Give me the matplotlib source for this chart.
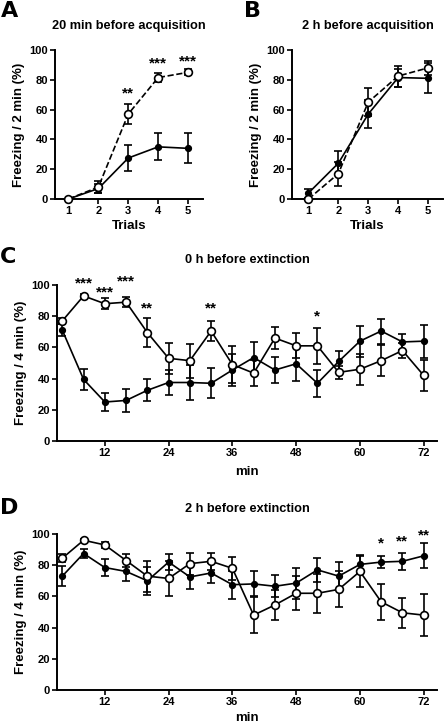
import matplotlib
matplotlib.use("Agg")
import matplotlib.pyplot as plt
import numpy as np

plt.rcParams['font.family'] = ['Liberation Sans', 'DejaVu Sans']
plt.rcParams['font.weight'] = 'bold'

# ---- data ----
trials = [1, 2, 3, 4, 5]
a_open = [0, 8, 57, 81.5, 85]
a_open_err = [0, 4, 6.5, 3, 2]
a_filled = [0, 7, 27.5, 35, 34]
a_filled_err = [0, 3, 9, 9, 10]
a_stars = {3: '**', 4: '***', 5: '***'}
a_star_y = {3: 71, 4: 91, 5: 92}

b_open = [0, 17, 65, 82.5, 88]
b_open_err = [0, 8, 9.5, 7, 4.5]
b_filled = [4, 24, 57, 81.5, 81]
b_filled_err = [3, 8, 9.5, 6, 10]

minutes = [4, 8, 12, 16, 20, 24, 28, 32, 36, 40, 44, 48, 52, 56, 60, 64, 68, 72]
c_open = [77, 93, 88, 89, 69.5, 53, 51.5, 70.5, 49, 43.5, 66, 61, 61, 44, 46, 51.5, 58, 42]
c_open_err = [2, 1, 3.5, 3, 9.5, 10, 11, 6.5, 12, 8.5, 7, 8, 11.5, 4, 10, 10, 5, 10]
c_filled = [71, 39.5, 25, 26, 32.5, 37.5, 37.5, 37, 45.5, 53.5, 45.5, 49.5, 37, 51, 64, 70.5, 63.5, 64]
c_filled_err = [4, 6.5, 5.5, 7.5, 7, 8, 11, 9.5, 10, 10, 8.5, 11, 8.5, 7, 10, 8, 5, 10.5]
c_stars = {8: '***', 12: '***', 16: '***', 20: '**', 32: '**', 52: '*'}
c_star_y = {8: 101, 12: 95, 16: 102, 20: 85, 32: 85, 52: 80}

d_open = [84.5, 96, 93, 83, 73, 71.5, 81, 82.5, 78, 48, 54.5, 62, 62, 64.5, 76, 56.5, 49.5, 48]
d_open_err = [2.5, 1, 2, 4, 10, 11.5, 7, 5.5, 7.5, 11.5, 9.5, 11, 12.5, 11.5, 10, 11.5, 9.5, 13.5]
d_filled = [73, 87.5, 78.5, 76, 70, 82, 72.5, 75, 67.5, 68, 66.5, 68.5, 77, 73, 80.5, 82, 82.5, 86]
d_filled_err = [6.5, 3, 5.5, 6, 9, 5, 8, 6.5, 9, 8, 7, 10, 7.5, 9, 6, 4, 5.5, 8]
d_stars = {64: '*', 68: '**', 72: '**'}
d_star_y = {64: 94, 68: 95, 72: 99}

W, H = 444, 725
fig = plt.figure(figsize=(W / 100, H / 100), dpi=100)

def rect(l, r, t, b):
    return [l / W, 1 - b / H, (r - l) / W, (b - t) / H]

axA = fig.add_axes(rect(55, 203, 50, 199))
axB = fig.add_axes(rect(292, 443, 50, 199))
axC = fig.add_axes(rect(57, 437, 285, 441))
axD = fig.add_axes(rect(57, 437, 534, 690))

LBL = 9.5
TTL = 9.2
STAR = 11

def style(ax, ylabel):
    for s in ['top', 'right']:
        ax.spines[s].set_visible(False)
    for s in ['left', 'bottom']:
        ax.spines[s].set_linewidth(1.4)
    ax.set_ylim(0, 100)
    ax.set_yticks([0, 20, 40, 60, 80, 100])
    ax.tick_params(direction='out', length=3.5, width=1.2, labelsize=8, pad=1.5)
    for lab in ax.get_xticklabels() + ax.get_yticklabels():
        lab.set_fontweight('bold')
    ax.set_ylabel(ylabel, fontsize=LBL, fontweight='bold', labelpad=3)

def series(ax, x, y, e, filled, ls='-'):
    if filled:
        mk = dict(marker='o', markersize=4.2, markerfacecolor='black', markeredgecolor='black')
    else:
        mk = dict(marker='o', markersize=5.6, markerfacecolor='white', markeredgecolor='black', markeredgewidth=1.2)
    ax.errorbar(x, y, yerr=e, color='black', lw=1.2, ls=ls, capsize=3.2, capthick=1.2,
                elinewidth=1.2, clip_on=False, zorder=3 if filled else 4, **mk)

def stars(ax, d, ys):
    for k, s in d.items():
        ax.text(k, ys[k], s, ha='center', va='center', fontsize=STAR, fontweight='bold')

# A
series(axA, trials, a_filled, a_filled_err, True)
series(axA, trials, a_open, a_open_err, False, ls='--')
axA.set_xlim(0.55, 5.5)
axA.set_xticks(trials)
style(axA, 'Freezing / 2 min (%)')
axA.set_xlabel('Trials', fontsize=LBL, fontweight='bold', labelpad=3)
axA.set_title('20 min before acquisition', fontsize=TTL, fontweight='bold', pad=15)
stars(axA, a_stars, a_star_y)

# B
series(axB, trials, b_filled, b_filled_err, True)
series(axB, trials, b_open, b_open_err, False, ls='--')
axB.set_xlim(0.45, 5.5)
axB.set_xticks(trials)
style(axB, 'Freezing / 2 min (%)')
axB.set_xlabel('Trials', fontsize=LBL, fontweight='bold', labelpad=3)
axB.set_title('2 h before acquisition', fontsize=TTL, fontweight='bold', pad=15)

# C
series(axC, minutes, c_filled, c_filled_err, True)
series(axC, minutes, c_open, c_open_err, False)
axC.set_xlim(3, 74.5)
axC.set_xticks([12, 24, 36, 48, 60, 72])
style(axC, 'Freezing / 4 min (%)')
axC.set_xlabel('min', fontsize=LBL, fontweight='bold', labelpad=6)
axC.set_title('0 h before extinction', fontsize=TTL, fontweight='bold', pad=16)
stars(axC, c_stars, c_star_y)

# D
series(axD, minutes, d_filled, d_filled_err, True)
series(axD, minutes, d_open, d_open_err, False)
axD.set_xlim(3, 74.5)
axD.set_xticks([12, 24, 36, 48, 60, 72])
style(axD, 'Freezing / 4 min (%)')
axD.set_xlabel('min', fontsize=LBL, fontweight='bold', labelpad=3.5)
axD.set_title('2 h before extinction', fontsize=TTL, fontweight='bold', pad=16)
stars(axD, d_stars, d_star_y)

for letter, x, y in [('A', 1, 11), ('B', 244, 11), ('C', 0, 257), ('D', 0, 508)]:
    fig.text(x / W, 1 - y / H, letter, fontsize=16, fontweight='bold', ha='left', va='center',
             family=['DejaVu Sans'])

fig.savefig('out.png', dpi=100)
